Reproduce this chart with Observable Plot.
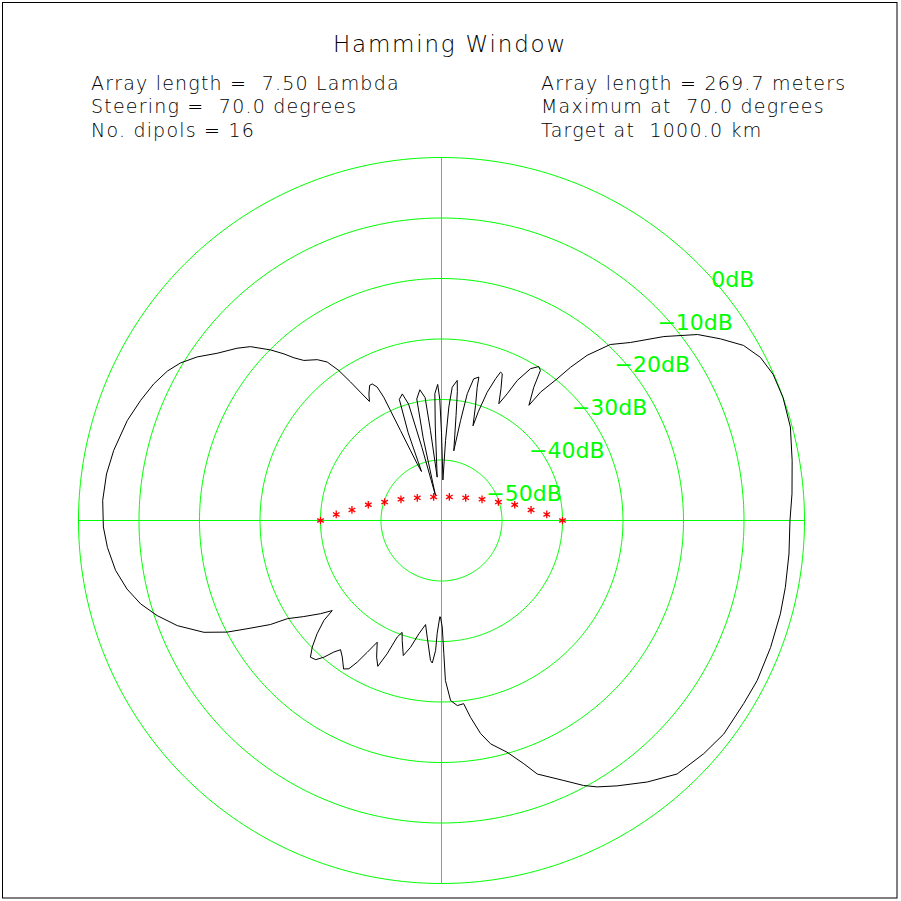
<!DOCTYPE html>
<html>
<head>
<meta charset="utf-8">
<script src="https://cdn.jsdelivr.net/npm/d3@7"></script>
<script src="https://cdn.jsdelivr.net/npm/@observablehq/plot@0.6"></script>
<style>
  body { margin: 0; background: #fff; }
  #wrap { width: 901px; height: 901px; }
</style>
</head>
<body>
<div id="wrap"></div>
<script>
// ---- Data ----
const title = "Hamming Window";
const infoLeft = ["Array length =  7.50 Lambda", "Steering =  70.0 degrees", "No. dipols = 16"];
const infoRight = ["Array length = 269.7 meters", "Maximum at  70.0 degrees", "Target at  1000.0 km"];

// radiation pattern: direction (degrees, counter-clockwise from the right) and level (dB)
const angles = [
  -90.6, -89.6, -89.0, -88.6, -87.1, -85.1, -83.1, -81.6, -79.6, -77.6,
  -74.2, -71.3, -69.3, -64.8, -61.8, -59.7, -56.5, -51.8, -47.1, -41.65,
  -37.1, -31.2, -26.9, -21.1, -15.4, -11.0, -5.5, 0.0, 4.35, 9.7,
  15.0, 19.8, 23.8, 27.1, 30.1, 33.1, 36.0, 39.6, 43.3, 46.2,
  48.6, 49.9, 50.8, 52.35, 52.8,
  55.3, 56.6, 57.7, 59.6, 61.6, 62.6, 63.85,
  65.7, 67.5, 68.3, 69.1, 70.4, 71.3, 71.6,
  73.5, 75.0, 75.4, 77.2, 78.5, 79.2, 80.0,
  82.1, 83.0, 83.6, 85.4, 86.3, 87.1, 88.0,
  90.0, 90.8, 91.6, 93.0, 93.8, 95.7,
  97.0, 97.6, 99.4, 101.5, 102.5, 103.5,
  105.0, 105.8, 107.2, 109.2, 110.8, 112.2,
  113.2, 113.9, 114.5, 114.9, 115.1, 115.75, 116.9, 118.0, 119.85, 121.2,
  122.3, 123.3, 124.4, 125.8, 127.7, 130.7, 132.2, 133.4, 135.05, 137.7,
  139.9, 143.3, 146.2, 148.9, 151.4, 154.6, 158.25, 162.35, 167.9, 172.1,
  176.6, 181.1, 184.6, 188.7, 192.3, 195.5, 198.5, 201.7, 205.2, 207.5,
  209.1, 211.3, 212.5, 214.9, 217.6, 219.5,
  220.35, 222.3, 224.4, 226.2, 227.9, 229.3, 230.7, 232.0,
  234.0, 236.6, 238.0, 239.25, 240.6, 242.15,
  244.6, 246.4, 247.8, 249.2, 250.6,
  251.9, 254.2, 256.25, 258.7, 261.3,
  263.0, 265.5, 266.3, 267.4, 267.8, 269.0
];
const levels = [
  -44.0, -42.4, -38.0, -33.55, -30.2, -29.3, -29.5, -27.1, -24.2, -22.2,
  -20.2, -17.55, -15.2, -12.5, -10.3, -9.0, -7.4, -5.0, -2.8, -2.0,
  -1.5, -1.6, -1.5, -1.7, -1.9, -2.1, -2.3, -2.4, -1.9, -1.2,
  -0.3, 0.0, -0.1, -0.8, -2.3, -5.0, -7.7, -12.3, -17.1, -19.7,
  -23.6, -26.9, -29.8, -33.2, -36.1,
  -33.2, -30.3, -29.9, -30.9, -33.7, -36.4, -38.5,
  -36.1, -33.75, -33.6, -34.9, -37.5, -41.0, -43.5,
  -40.2, -37.2, -35.5, -36.0, -38.6, -43.2, -48.3,
  -42.5, -38.5, -36.7, -37.9, -41.2, -46.8, -53.3,
  -45.5, -40.0, -37.5, -39.0, -44.5, -52.8,
  -45.0, -39.5, -38.1, -39.5, -46.0, -55.75,
  -47.5, -40.0, -38.1, -38.8, -44.5, -51.25,
  -49.8, -47.3, -43.65, -40.0, -37.5, -35.5, -34.7, -34.7, -35.9, -37.0,
  -34.9, -32.6, -29.95, -27.7, -26.4, -25.1, -23.7, -22.1, -20.1, -17.3,
  -15.8, -13.75, -11.4, -9.6, -8.4, -7.35, -6.45, -5.5, -4.6, -4.1,
  -3.9, -4.1, -4.6, -5.5, -6.8, -8.4, -10.45, -13.0, -16.6, -20.05,
  -23.2, -26.9, -29.8, -32.25, -34.75, -36.6,
  -34.5, -32.2, -30.1, -28.7, -29.0, -30.2, -31.9, -32.9,
  -32.1, -30.6, -31.1, -32.75, -35.0, -37.25,
  -35.0, -33.7, -36.2, -39.4, -40.4,
  -39.1, -36.8, -38.4, -40.9, -42.6,
  -40.6, -36.8, -36.4, -38.5, -41.3, -44.1
];

// dB rings and their labels
const ringLevels = [-50, -40, -30, -20, -10, 0];
const ringLabels = ["\u221250dB", "\u221240dB", "\u221230dB", "\u221220dB", "\u221210dB", "\u20020dB"];
const floorDb = -60;

// dipole markers (in chart units, 10 units per ring)
const dipoleX = [-20, -17.4, -14.8, -12.1, -9.4, -6.7, -4.0, -1.3, 1.3, 4.0, 6.7, 9.4, 12.1, 14.8, 17.4, 20];
const dipoleY = [0, 1.0, 1.75, 2.6, 3.05, 3.5, 3.75, 3.9, 3.9, 3.75, 3.5, 3.05, 2.6, 1.75, 1.0, 0];

// ---- Build ----
const GREEN = "#00ff00";
const rad = Math.PI / 180;
const R = db => db - floorDb;
const outer = R(d3.max(ringLevels));

const pattern = angles.map((a, i) => ({a, db: levels[i]}));
pattern.push(pattern[0]);

const ringPts = ringLevels.flatMap(l =>
  d3.range(0, 361, 1).map(a => ({l, x: R(l) * Math.cos(a * rad), y: R(l) * Math.sin(a * rad)}))
);
const labels = ringLevels.map((l, i) => ({l, label: ringLabels[i]}));
const dipoles = dipoleX.map((x, i) => ({x, y: dipoleY[i]}));

const svg = Plot.plot({
  width: 901,
  height: 901,
  margin: 0,
  style: {background: "#fff"},
  x: {domain: [-outer, outer], range: [78, 804], axis: null},
  y: {domain: [-outer, outer], range: [883, 157], axis: null},
  marks: [
    Plot.line(ringPts, {x: "x", y: "y", z: "l", stroke: GREEN, strokeWidth: 1}),
    Plot.ruleY([0], {x1: -outer, x2: outer, stroke: GREEN, strokeWidth: 1}),
    Plot.ruleX([0], {y1: -outer, y2: outer, stroke: GREEN, strokeWidth: 1}),
    Plot.line(pattern, {
      x: d => R(d.db) * Math.cos(d.a * rad),
      y: d => R(d.db) * Math.sin(d.a * rad),
      stroke: "black", strokeWidth: 1
    }),
    Plot.dot(dipoles, {x: "x", y: "y", symbol: "asterisk", r: 3.6, stroke: "red", fill: "none", strokeWidth: 1.3}),
    Plot.text(labels, {
      x: d => R(d.l) * Math.SQRT1_2,
      y: d => R(d.l) * Math.SQRT1_2,
      text: "label",
      textAnchor: "start",
      dx: 2, dy: 16,
      fill: GREEN,
      fontSize: 22,
      fontFamily: "DejaVu Sans"
    })
  ]
});

const s = d3.select(svg);
s.append("rect")
  .attr("x", 2.5).attr("y", 2.5).attr("width", 894.5).attr("height", 895.5)
  .attr("fill", "none").attr("stroke", "#000").attr("stroke-width", 1);

s.append("text")
  .attr("x", 450).attr("y", 52)
  .attr("text-anchor", "middle")
  .attr("font-family", "DejaVu Sans")
  .attr("font-weight", 300)
  .attr("font-size", 23)
  .attr("letter-spacing", 1.8)
  .attr("fill", "#000")
  .text(title);

function block(lines, x) {
  lines.forEach((t, i) => {
    s.append("text")
      .attr("x", x).attr("y", 90 + i * 23.3)
      .attr("text-anchor", "start")
      .attr("font-family", "DejaVu Sans")
      .attr("font-weight", 300)
      .attr("font-size", 19)
      .attr("letter-spacing", 1.2)
      .attr("fill", "#000")
      .style("white-space", "pre")
      .text(t);
  });
}
block(infoLeft, 91);
block(infoRight, 541);

document.getElementById("wrap").appendChild(svg);
</script>
</body>
</html>
